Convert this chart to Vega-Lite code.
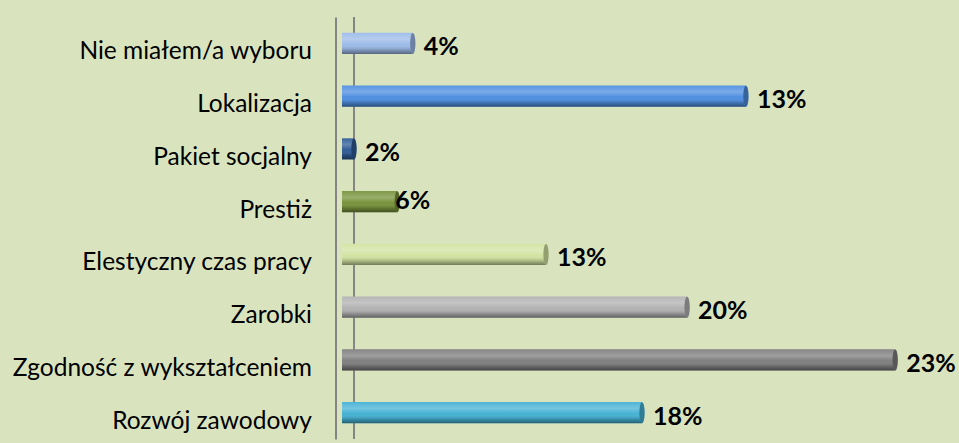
{
  "$schema": "https://vega.github.io/schema/vega-lite/v6.json",
  "width": 600,
  "height": 422,
  "autosize": {"type": "none"},
  "padding": {"left": 342, "top": 17, "right": 17, "bottom": 4},
  "background": "#d9e4bf",
  "config": {"view": {"stroke": null}},
  "data": {"values": [
    {"kategoria": "Nie miałem/a wyboru", "wartosc": 2.95, "etykieta": "4%"},
    {"kategoria": "Lokalizacja", "wartosc": 16.83, "etykieta": "13%"},
    {"kategoria": "Pakiet socjalny", "wartosc": 0.5, "etykieta": "2%"},
    {"kategoria": "Prestiż", "wartosc": 2.3, "etykieta": "6%"},
    {"kategoria": "Elestyczny czas pracy", "wartosc": 8.5, "etykieta": "13%"},
    {"kategoria": "Zarobki ", "wartosc": 14.38, "etykieta": "20%"},
    {"kategoria": "Zgodność z wykształceniem", "wartosc": 23.05, "etykieta": "23%"},
    {"kategoria": "Rozwój zawodowy", "wartosc": 12.5, "etykieta": "18%"}
  ]},
  "layer": [
    {
      "mark": {"type": "rule", "color": "#858585", "strokeWidth": 2},
      "encoding": {"x": {"datum": 0.5, "type": "quantitative", "scale": {"domain": [0, 25], "nice": false, "padding": 0, "zero": true}, "axis": null}}
    },
    {
      "mark": {"type": "bar"},
      "encoding": {
        "x": {"field": "wartosc", "type": "quantitative", "axis": null},
        "y": {
          "field": "kategoria", "type": "nominal", "sort": null,
          "scale": {"paddingInner": 0.6, "paddingOuter": 0.3},
          "axis": {
            "title": null, "ticks": false, "offset": 6.5,
            "domainColor": "#858585", "domainWidth": 2,
            "labelFont": "Lato", "labelFontSize": 24.5, "labelColor": "#000000",
            "labelPadding": 24, "labelOffset": 9, "labelLimit": 400
          }
        },
        "color": {
          "field": "kategoria", "type": "nominal", "sort": null, "legend": null,
          "scale": {
            "domain": ["Nie miałem/a wyboru", "Lokalizacja", "Pakiet socjalny", "Prestiż", "Elestyczny czas pracy", "Zarobki ", "Zgodność z wykształceniem", "Rozwój zawodowy"],
            "range": ["#9dbbe8", "#4f8fe0", "#2f5c96", "#77933c", "#d3e3a2", "#b2b2b2", "#7f7f7f", "#45b2d4"]
          }
        }
      }
    },
    {
      "mark": {
        "type": "bar",
        "color": {
          "gradient": "linear", "x1": 0, "y1": 0, "x2": 0, "y2": 1,
          "stops": [
            {"offset": 0, "color": "rgba(255,255,255,0.05)"},
            {"offset": 0.3, "color": "rgba(255,255,255,0.25)"},
            {"offset": 0.55, "color": "rgba(255,255,255,0.0)"},
            {"offset": 0.8, "color": "rgba(0,0,0,0.18)"},
            {"offset": 1, "color": "rgba(0,0,0,0.45)"}
          ]
        }
      },
      "encoding": {
        "x": {"field": "wartosc", "type": "quantitative"},
        "y": {"field": "kategoria", "type": "nominal", "sort": null}
      }
    },
    {
      "mark": {"type": "point", "filled": true, "opacity": 1, "shape": "M0,-1 A0.25,1 0 1,1 0,1 A0.25,1 0 1,1 0,-1 Z", "size": 441},
      "encoding": {
        "x": {"field": "wartosc", "type": "quantitative"},
        "y": {"field": "kategoria", "type": "nominal", "sort": null},
        "color": {"field": "kategoria", "type": "nominal", "sort": null, "legend": null}
      }
    },
    {
      "mark": {"type": "point", "filled": true, "opacity": 0.3, "color": "#000000", "shape": "M0,-1 A0.25,1 0 1,1 0,1 A0.25,1 0 1,1 0,-1 Z", "size": 441},
      "encoding": {
        "x": {"field": "wartosc", "type": "quantitative"},
        "y": {"field": "kategoria", "type": "nominal", "sort": null}
      }
    },
    {
      "transform": [{"filter": "datum.kategoria !== 'Prestiż'"}],
      "mark": {"type": "text", "align": "left", "baseline": "middle", "dx": 11, "dy": 4, "font": "Lato", "fontWeight": "bold", "fontSize": 25, "color": "#000000"},
      "encoding": {
        "x": {"field": "wartosc", "type": "quantitative"},
        "y": {"field": "kategoria", "type": "nominal", "sort": null},
        "text": {"field": "etykieta"}
      }
    },
    {
      "transform": [{"filter": "datum.kategoria === 'Prestiż'"}],
      "mark": {"type": "text", "align": "left", "baseline": "middle", "dx": -2, "dy": -1, "font": "Lato", "fontWeight": "bold", "fontSize": 25, "color": "#000000"},
      "encoding": {
        "x": {"field": "wartosc", "type": "quantitative"},
        "y": {"field": "kategoria", "type": "nominal", "sort": null},
        "text": {"field": "etykieta"}
      }
    }
  ]
}
